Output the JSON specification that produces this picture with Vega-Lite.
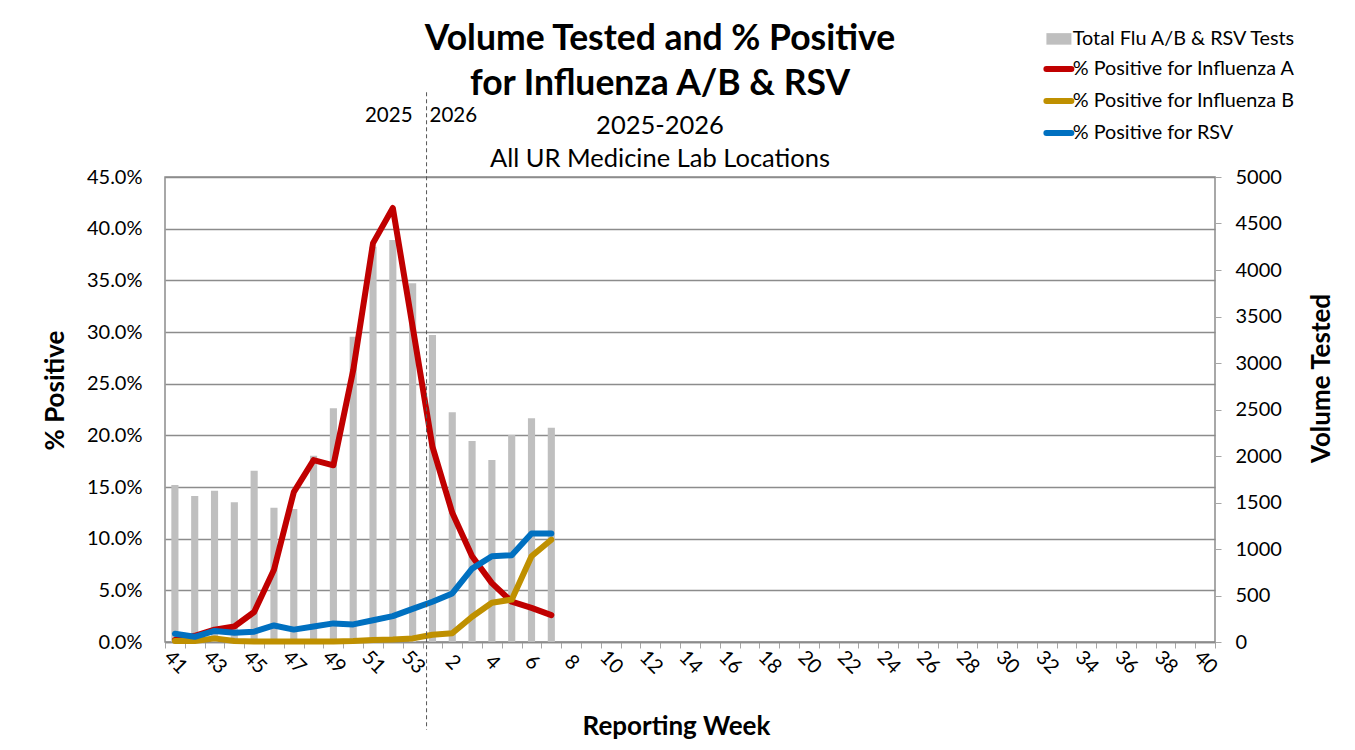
{
  "$schema": "https://vega.github.io/schema/vega-lite/v6.json",
  "width": 1050,
  "height": 465,
  "autosize": {"type": "none"},
  "padding": {"left": 165, "top": 177, "right": 140, "bottom": 108},
  "background": "white",
  "config": {
    "font": "Lato",
    "view": {"stroke": "#8c8c8c", "strokeWidth": 1.5},
    "axis": {
      "labelFont": "Lato", "labelFontSize": 20, "labelColor": "#000000",
      "titleFont": "Lato", "titleFontSize": 26, "titleFontWeight": "bold", "titleColor": "#000000",
      "domainColor": "#8c8c8c", "tickColor": "#a6a6a6", "domainWidth": 1.5
    },
    "legend": {"labelFont": "Lato", "labelFontSize": 19.8, "labelColor": "#000000"}
  },
  "title": {
    "text": ["Volume Tested and % Positive", "for Influenza A/B & RSV"],
    "subtitle": ["2025-2026", "All UR Medicine Lab Locations"],
    "anchor": "middle",
    "dx": -30,
    "dy": 149,
    "font": "Lato",
    "fontSize": 35.5,
    "fontWeight": "bold",
    "lineHeight": 45,
    "color": "#000000",
    "subtitleFont": "Lato",
    "subtitleFontSize": 25.5,
    "subtitleLineHeight": 33,
    "subtitleColor": "#000000",
    "subtitlePadding": 11,
    "offset": 6
  },
  "datasets": {
    "tests": [
      {"week": "41", "tests": 1688}, {"week": "42", "tests": 1570}, {"week": "43", "tests": 1627},
      {"week": "44", "tests": 1502}, {"week": "45", "tests": 1842}, {"week": "46", "tests": 1444},
      {"week": "47", "tests": 1430}, {"week": "48", "tests": 2003}, {"week": "49", "tests": 2513},
      {"week": "50", "tests": 3283}, {"week": "51", "tests": 4250}, {"week": "52", "tests": 4323},
      {"week": "53", "tests": 3857}, {"week": "1", "tests": 3301}, {"week": "2", "tests": 2470},
      {"week": "3", "tests": 2161}, {"week": "4", "tests": 1957}, {"week": "5", "tests": 2226},
      {"week": "6", "tests": 2405}, {"week": "7", "tests": 2305}
    ],
    "pos": [
      {"week": "41", "series": "% Positive for Influenza A", "pct": 0.002},
      {"week": "42", "series": "% Positive for Influenza A", "pct": 0.006},
      {"week": "43", "series": "% Positive for Influenza A", "pct": 0.012},
      {"week": "44", "series": "% Positive for Influenza A", "pct": 0.015},
      {"week": "45", "series": "% Positive for Influenza A", "pct": 0.029},
      {"week": "46", "series": "% Positive for Influenza A", "pct": 0.070},
      {"week": "47", "series": "% Positive for Influenza A", "pct": 0.145},
      {"week": "48", "series": "% Positive for Influenza A", "pct": 0.176},
      {"week": "49", "series": "% Positive for Influenza A", "pct": 0.171},
      {"week": "50", "series": "% Positive for Influenza A", "pct": 0.263},
      {"week": "51", "series": "% Positive for Influenza A", "pct": 0.386},
      {"week": "52", "series": "% Positive for Influenza A", "pct": 0.420},
      {"week": "53", "series": "% Positive for Influenza A", "pct": 0.305},
      {"week": "1", "series": "% Positive for Influenza A", "pct": 0.189},
      {"week": "2", "series": "% Positive for Influenza A", "pct": 0.125},
      {"week": "3", "series": "% Positive for Influenza A", "pct": 0.083},
      {"week": "4", "series": "% Positive for Influenza A", "pct": 0.057},
      {"week": "5", "series": "% Positive for Influenza A", "pct": 0.039},
      {"week": "6", "series": "% Positive for Influenza A", "pct": 0.033},
      {"week": "7", "series": "% Positive for Influenza A", "pct": 0.026},
      {"week": "41", "series": "% Positive for Influenza B", "pct": 0.001},
      {"week": "42", "series": "% Positive for Influenza B", "pct": 0.001},
      {"week": "43", "series": "% Positive for Influenza B", "pct": 0.0035},
      {"week": "44", "series": "% Positive for Influenza B", "pct": 0.001},
      {"week": "45", "series": "% Positive for Influenza B", "pct": 0.0005},
      {"week": "46", "series": "% Positive for Influenza B", "pct": 0.0005},
      {"week": "47", "series": "% Positive for Influenza B", "pct": 0.0005},
      {"week": "48", "series": "% Positive for Influenza B", "pct": 0.0005},
      {"week": "49", "series": "% Positive for Influenza B", "pct": 0.0005},
      {"week": "50", "series": "% Positive for Influenza B", "pct": 0.001},
      {"week": "51", "series": "% Positive for Influenza B", "pct": 0.002},
      {"week": "52", "series": "% Positive for Influenza B", "pct": 0.0025},
      {"week": "53", "series": "% Positive for Influenza B", "pct": 0.0035},
      {"week": "1", "series": "% Positive for Influenza B", "pct": 0.007},
      {"week": "2", "series": "% Positive for Influenza B", "pct": 0.0085},
      {"week": "3", "series": "% Positive for Influenza B", "pct": 0.0245},
      {"week": "4", "series": "% Positive for Influenza B", "pct": 0.038},
      {"week": "5", "series": "% Positive for Influenza B", "pct": 0.041},
      {"week": "6", "series": "% Positive for Influenza B", "pct": 0.083},
      {"week": "7", "series": "% Positive for Influenza B", "pct": 0.099},
      {"week": "41", "series": "% Positive for RSV", "pct": 0.008},
      {"week": "42", "series": "% Positive for RSV", "pct": 0.005},
      {"week": "43", "series": "% Positive for RSV", "pct": 0.0107},
      {"week": "44", "series": "% Positive for RSV", "pct": 0.009},
      {"week": "45", "series": "% Positive for RSV", "pct": 0.010},
      {"week": "46", "series": "% Positive for RSV", "pct": 0.016},
      {"week": "47", "series": "% Positive for RSV", "pct": 0.012},
      {"week": "48", "series": "% Positive for RSV", "pct": 0.015},
      {"week": "49", "series": "% Positive for RSV", "pct": 0.018},
      {"week": "50", "series": "% Positive for RSV", "pct": 0.017},
      {"week": "51", "series": "% Positive for RSV", "pct": 0.021},
      {"week": "52", "series": "% Positive for RSV", "pct": 0.025},
      {"week": "53", "series": "% Positive for RSV", "pct": 0.032},
      {"week": "1", "series": "% Positive for RSV", "pct": 0.039},
      {"week": "2", "series": "% Positive for RSV", "pct": 0.047},
      {"week": "3", "series": "% Positive for RSV", "pct": 0.071},
      {"week": "4", "series": "% Positive for RSV", "pct": 0.083},
      {"week": "5", "series": "% Positive for RSV", "pct": 0.084},
      {"week": "6", "series": "% Positive for RSV", "pct": 0.105},
      {"week": "7", "series": "% Positive for RSV", "pct": 0.105}
    ]
  },
  "encoding": {
    "x": {
      "field": "week",
      "type": "ordinal",
      "sort": null,
      "scale": {
        "domain": ["41","42","43","44","45","46","47","48","49","50","51","52","53","1","2","3","4","5","6","7","8","9","10","11","12","13","14","15","16","17","18","19","20","21","22","23","24","25","26","27","28","29","30","31","32","33","34","35","36","37","38","39","40"],
        "paddingInner": 0,
        "paddingOuter": 0
      },
      "axis": {
        "title": "Reporting Week",
        "titleX": 511,
        "titlePadding": 36,
        "labelAngle": 45,
        "labelAlign": "center",
        "labelBaseline": "middle",
        "labelPadding": 14,
        "labelOverlap": false,
        "tickBand": "extent",
        "tickSize": 6,
        "labelExpr": "(toNumber(datum.value) > 40 ? toNumber(datum.value) % 2 == 1 : toNumber(datum.value) % 2 == 0) ? datum.label : ''"
      }
    }
  },
  "layer": [
    {
      "data": {"name": "tests"},
      "mark": {"type": "bar", "width": {"band": 0.36}},
      "encoding": {
        "y": {
          "field": "tests",
          "type": "quantitative",
          "scale": {"domain": [0, 5000], "nice": false},
          "axis": {
            "orient": "right",
            "title": "Volume Tested",
            "titleAngle": 270,
            "titlePadding": 53,
            "titleY": 201,
            "format": "d",
            "values": [0,500,1000,1500,2000,2500,3000,3500,4000,4500,5000],
            "grid": false,
            "tickSize": 6,
            "labelPadding": 14,
            "domain": false
          }
        },
        "color": {
          "datum": "Total Flu A/B & RSV Tests",
          "scale": {
            "domain": ["Total Flu A/B & RSV Tests", "% Positive for Influenza A", "% Positive for Influenza B", "% Positive for RSV"],
            "range": ["#BFBFBF", "#C00000", "#BF9000", "#0070C0"]
          },
          "legend": {
            "title": null,
            "orient": "none",
            "legendX": 884,
            "legendY": -148,
            "padding": 0,
            "symbolSize": 625,
            "rowPadding": 7,
            "labelOffset": 4,
            "labelFontSize": 19.8,
            "labelLimit": 400,
            "encode": {
              "symbols": {
                "update": {
                  "shape": {"signal": "datum.value === 'Total Flu A/B & RSV Tests' ? 'M-1,-0.46H1V0.46H-1Z' : 'stroke'"},
                  "fill": {"scale": "color", "field": "value"},
                  "stroke": {"scale": "color", "field": "value"},
                  "strokeWidth": {"signal": "datum.value === 'Total Flu A/B & RSV Tests' ? 0 : 6"},
                  "strokeCap": {"value": "round"},
                  "opacity": {"value": 1},
                  "fillOpacity": {"value": 1}
                }
              }
            }
          }
        }
      }
    },
    {
      "layer": [
        {
          "data": {"name": "pos"},
          "mark": {"type": "line", "strokeWidth": 6, "strokeJoin": "round", "strokeCap": "round"},
          "encoding": {
            "y": {
              "field": "pct",
              "type": "quantitative",
              "scale": {"domain": [0, 0.45], "nice": false},
              "axis": {
                "orient": "left",
                "title": "% Positive",
                "format": ".1%",
                "values": [0,0.05,0.1,0.15,0.2,0.25,0.3,0.35,0.4,0.45],
                "grid": true,
                "gridColor": "#8c8c8c",
                "gridWidth": 1.5,
                "ticks": false,
                "labelPadding": 23,
                "titlePadding": 18,
                "titleY": 213,
                "domain": false
              }
            },
            "color": {"field": "series", "type": "nominal", "legend": {"title": null}}
          }
        },
        {
          "data": {"values": [{"week": "53"}]},
          "mark": {"type": "rule", "color": "#555555", "strokeDash": [4, 3], "strokeWidth": 1, "xOffset": 4},
          "encoding": {
            "x": {"field": "week", "type": "ordinal", "bandPosition": 1},
            "y": {"datum": 0.532},
            "y2": {"datum": -0.085}
          }
        },
        {
          "data": {"values": [{"week": "53", "label": "2025"}]},
          "mark": {"type": "text", "align": "right", "baseline": "middle", "dx": -10, "fontSize": 20.5, "font": "Lato", "color": "#000000"},
          "encoding": {
            "x": {"field": "week", "type": "ordinal", "bandPosition": 1},
            "y": {"datum": 0.509},
            "text": {"field": "label"}
          }
        },
        {
          "data": {"values": [{"week": "1", "label": "2026"}]},
          "mark": {"type": "text", "align": "left", "baseline": "middle", "dx": 7, "fontSize": 20.5, "font": "Lato", "color": "#000000"},
          "encoding": {
            "x": {"field": "week", "type": "ordinal", "bandPosition": 0},
            "y": {"datum": 0.509},
            "text": {"field": "label"}
          }
        }
      ]
    }
  ],
  "resolve": {"scale": {"y": "independent"}}
}
